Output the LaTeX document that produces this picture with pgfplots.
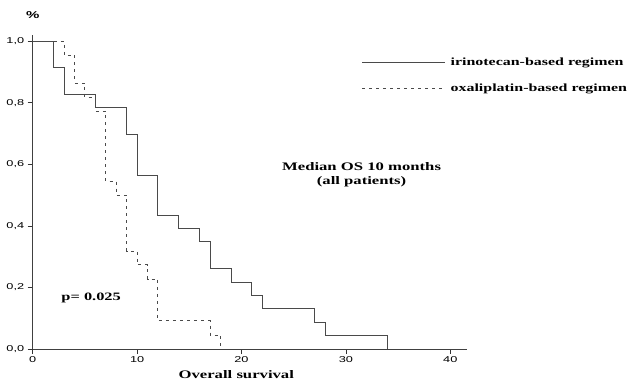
\documentclass[border=0pt]{standalone}
\usepackage{fontspec}
\setmainfont{Liberation Serif}[FakeStretch=1.45]
\newfontfamily\ticksf{Liberation Sans}[FakeStretch=1.5]
\usepackage{pgfplots}
\pgfplotsset{compat=1.18}
\definecolor{curve}{HTML}{4A4A4A}
\begin{document}
\begin{tikzpicture}
\path[use as bounding box] (-32.7bp,-33bp) rectangle (602.3bp,349bp);
\begin{axis}[
  scale only axis, width=434.3bp, height=314bp,
  xmin=0, xmax=41.6, ymin=0, ymax=1.02,
  axis x line*=bottom, axis y line*=left,
  xtick={0,10,20,30,40},
  xticklabels={0,10,20,30,40},
  ytick={0,0.2,0.4,0.6,0.8,1},
  yticklabels={{0,0},{0,2},{0,4},{0,6},{0,8},{1,0}},
  tick align=outside, major tick length=5bp,
  tick style={black!80, line width=0.6pt},
  axis line style={line width=0.8pt, black!75},
  ticklabel style={font=\ticksf\fontsize{8.5bp}{9bp}\selectfont},
  xticklabel style={yshift=1bp},
  clip=false,
  legend style={draw=none, fill=none, at={(axis cs:31.2,0.96)}, anchor=north west,
    font=\fontsize{11bp}{13bp}\selectfont\bfseries, row sep=13bp,
    /tikz/every odd column/.append style={column sep=3bp}},
  legend cell align=left,
  legend image code/.code={\draw[#1] (0bp,0bp) -- (83bp,0bp);},
]
\addplot[const plot, curve, line width=1pt] coordinates {
 (0,1) (2,0.913) (3,0.826) (6,0.783) (9,0.696) (10,0.565) (12,0.435) (14,0.391)
 (16,0.348) (17,0.261) (19,0.217) (21,0.174) (22,0.130) (27,0.087) (28,0.043) (34,0)};
\addlegendentry{irinotecan-based regimen}
\addplot[const plot, curve, line width=1pt, dash pattern=on 3bp off 4bp] coordinates {
 (0,1) (3,0.955) (4,0.864) (5,0.818) (6,0.773) (7,0.545) (8,0.5) (9,0.318)
 (10,0.273) (11,0.227) (12,0.091) (17,0.045) (18,0)};
\addlegendentry{oxaliplatin-based regimen}
\node[font=\ticksf\fontsize{10bp}{11bp}\selectfont\bfseries] at (axis cs:0,1.085) {\%};
\node[font=\fontsize{11.5bp}{13bp}\selectfont\bfseries, align=center] at (axis cs:31.5,0.565) {Median OS 10 months\\[1bp](all patients)};
\node[font=\fontsize{11.3bp}{13bp}\selectfont\bfseries] at (axis cs:5.6,0.166) {p= 0.025};
\node[font=\fontsize{11.5bp}{13bp}\selectfont\bfseries] at (axis cs:19.5,-0.084) {Overall survival};
\end{axis}
\end{tikzpicture}
\end{document}
